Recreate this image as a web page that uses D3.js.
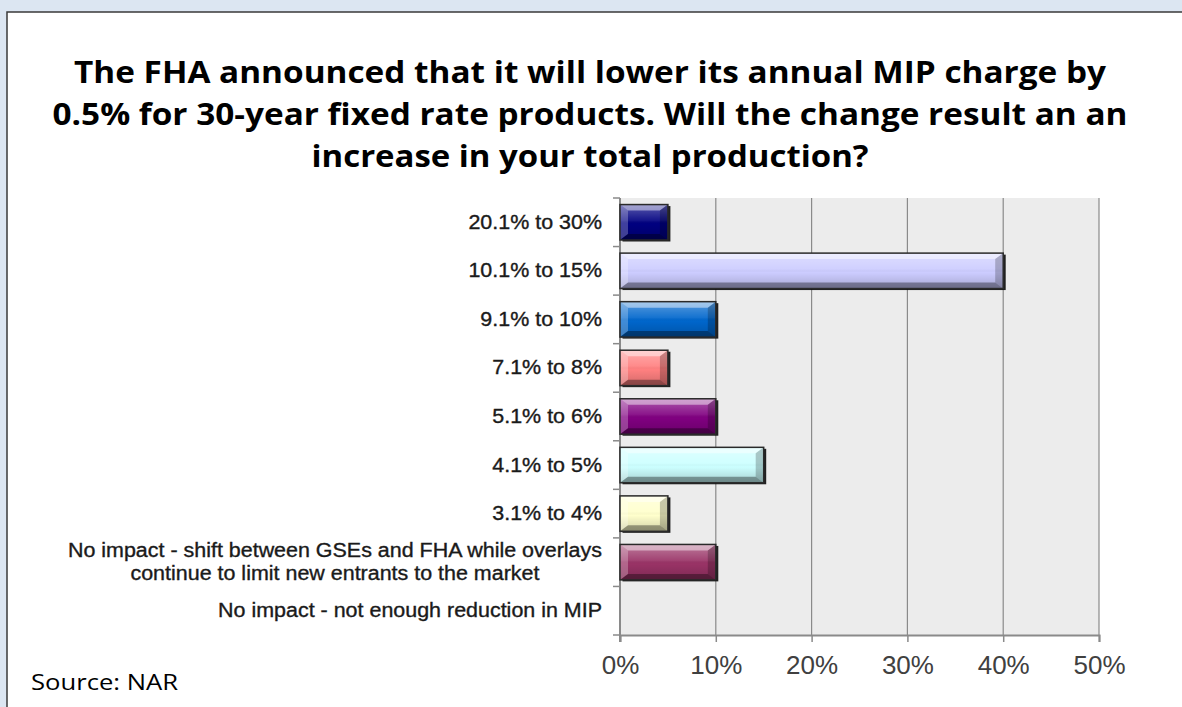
<!DOCTYPE html>
<html>
<head>
<meta charset="utf-8">
<script src="https://cdn.jsdelivr.net/npm/d3@7"></script>
<style>
  html, body { margin: 0; padding: 0; background: #dce6f2; }
  svg { display: block; }
</style>
</head>
<body>
<svg id="chart" width="1182" height="707"></svg>
<script>
// ---- data ----
const titleLines = [
  "The FHA announced that it will lower its annual MIP charge by",
  "0.5% for 30-year fixed rate products. Will the change result an an",
  "increase in your total production?"
];
const categories = [
  "20.1% to 30%",
  "10.1% to 15%",
  "9.1% to 10%",
  "7.1% to 8%",
  "5.1% to 6%",
  "4.1% to 5%",
  "3.1% to 4%",
  "No impact - shift between GSEs and FHA while overlays\ncontinue to limit new entrants to the market",
  "No impact - not enough reduction in MIP"
];
const values = [5, 40, 10, 5, 10, 15, 5, 10, 0];
const barColors = ["#000080", "#ccccff", "#0066cc", "#ff8080", "#800080", "#ccffff", "#ffffcc", "#993366", "#c0c0c0"];
const xTicks = [0, 10, 20, 30, 40, 50];
const sourceText = "Source: NAR";

// ---- layout ----
const svg = d3.select("#chart");
const plot = { left: 620, right: 1099, top: 198, bottom: 635 };

// panel
svg.append("rect")
  .attr("x", 7).attr("y", 12).attr("width", 1200).attr("height", 720)
  .attr("fill", "#ffffff").attr("stroke", "#3a3a3a").attr("stroke-width", 1.5);

// title
const titleBase = [83, 125, 167];
const titleWidths = [1032, 1075, 557];
svg.append("g").selectAll("text").data(titleLines).join("text")
  .attr("x", 590)
  .attr("y", (d, i) => titleBase[i])
  .attr("text-anchor", "middle")
  .attr("font-family", "'Open Sans', sans-serif")
  .attr("font-weight", "bold")
  .attr("font-size", 31)
  .attr("fill", "#000")
  .attr("textLength", (d, i) => titleWidths[i])
  .attr("lengthAdjust", "spacingAndGlyphs")
  .text(d => d);

// scales
const x = d3.scaleLinear().domain([0, 50]).range([plot.left, plot.right]);
const y = d3.scaleBand().domain(categories).range([plot.top, plot.bottom]).paddingInner(0.27).paddingOuter(0.135);
const yFull = d3.scaleBand().domain(categories).range([plot.top, plot.bottom]);

// plot background
svg.append("rect")
  .attr("x", x(0)).attr("y", plot.top)
  .attr("width", x(50) - x(0)).attr("height", plot.bottom - plot.top)
  .attr("fill", "#ececec");

// gridlines
svg.append("g").selectAll("line").data(xTicks.filter(t => t > 0)).join("line")
  .attr("x1", d => x(d)).attr("x2", d => x(d))
  .attr("y1", plot.top).attr("y2", plot.bottom)
  .attr("stroke", "#8a8a8a").attr("stroke-width", 1.2);

// x axis
const xAxis = d3.axisBottom(x).tickValues(xTicks).tickFormat(d => d + "%").tickSize(7).tickPadding(14);
const gx = svg.append("g").attr("transform", `translate(0,${plot.bottom})`).call(xAxis);
gx.select(".domain").attr("stroke", "#8a8a8a").attr("stroke-width", 2);
gx.selectAll(".tick line").attr("stroke", "#8a8a8a").attr("stroke-width", 1.5);
gx.selectAll(".tick text")
  .attr("font-family", "'Liberation Sans', Arial, sans-serif")
  .attr("font-size", 26).attr("fill", "#404040");

// y axis (ticks at band boundaries)
const boundaries = d3.range(categories.length + 1).map(i => plot.top + i * yFull.step());
svg.append("line")
  .attr("x1", x(0)).attr("x2", x(0)).attr("y1", plot.top).attr("y2", plot.bottom + 7)
  .attr("stroke", "#8a8a8a").attr("stroke-width", 2);
svg.append("g").selectAll("line").data(boundaries).join("line")
  .attr("x1", x(0) - 7).attr("x2", x(0))
  .attr("y1", d => d).attr("y2", d => d)
  .attr("stroke", "#8a8a8a").attr("stroke-width", 1.5);

// y labels
const labelRight = 602;
const lg = svg.append("g")
  .attr("font-family", "'Liberation Sans', Arial, sans-serif")
  .attr("font-size", 19.5)
  .attr("fill", "#1a1a1a")
  .attr("stroke", "#1a1a1a")
  .attr("stroke-width", 0.35);
categories.forEach((c, i) => {
  const lines = c.split("\n");
  const cy = yFull(c) + yFull.bandwidth() / 2;
  const lh = 23;
  const texts = lines.map((ln, j) => lg.append("text")
    .attr("y", cy + (j - (lines.length - 1) / 2) * lh + 6.5)
    .text(ln));
  const widths = texts.map(t => t.node().getComputedTextLength() * 1.10);
  const maxW = d3.max(widths);
  texts.forEach((t, j) => {
    t.attr("textLength", widths[j]).attr("lengthAdjust", "spacingAndGlyphs");
    if (lines.length > 1) {
      t.attr("text-anchor", "middle").attr("x", labelRight - maxW / 2);
    } else {
      t.attr("text-anchor", "end").attr("x", labelRight);
    }
  });
});

// bars with bevel
const defs = svg.append("defs");
const sheen = defs.append("linearGradient").attr("id", "sheen").attr("x1", 0).attr("y1", 0).attr("x2", 0).attr("y2", 1);
sheen.append("stop").attr("offset", 0).attr("stop-color", "#fff").attr("stop-opacity", 0.35);
sheen.append("stop").attr("offset", 0.45).attr("stop-color", "#fff").attr("stop-opacity", 0.08);
sheen.append("stop").attr("offset", 0.55).attr("stop-color", "#000").attr("stop-opacity", 0.0);
sheen.append("stop").attr("offset", 1).attr("stop-color", "#000").attr("stop-opacity", 0.18);

const bars = svg.append("g").selectAll("g").data(categories.map((c, i) => ({ c, v: values[i], col: barColors[i] })).filter(d => d.v > 0)).join("g");
bars.each(function (d) {
  const g = d3.select(this);
  const x0 = x(0), x1 = x(d.v), y0 = y(d.c), y1 = y(d.c) + y.bandwidth();
  const bx = Math.min(8, (x1 - x0) / 2), by = 6;
  // shadow
  g.append("rect").attr("x", x0 + 2.5).attr("y", y0 + 1.5).attr("width", x1 - x0).attr("height", y1 - y0)
    .attr("fill", "#0a0a0a").attr("opacity", 0.9);
  g.append("rect").attr("x", x0).attr("y", y0).attr("width", x1 - x0).attr("height", y1 - y0).attr("fill", d.col);
  g.append("rect").attr("x", x0).attr("y", y0).attr("width", x1 - x0).attr("height", y1 - y0).attr("fill", "url(#sheen)");
  const poly = (pts, fill, op) => g.append("polygon").attr("points", pts.map(p => p.join(",")).join(" ")).attr("fill", fill).attr("opacity", op);
  poly([[x0, y0], [x1, y0], [x1 - bx, y0 + by], [x0 + bx, y0 + by]], "#fff", 0.45);
  poly([[x0, y0], [x0 + bx, y0 + by], [x0 + bx, y1 - by], [x0, y1]], "#fff", 0.25);
  poly([[x0, y1], [x0 + bx, y1 - by], [x1 - bx, y1 - by], [x1, y1]], "#000", 0.35);
  poly([[x1, y0], [x1, y1], [x1 - bx, y1 - by], [x1 - bx, y0 + by]], "#000", 0.22);
  g.append("rect").attr("x", x0).attr("y", y0).attr("width", x1 - x0).attr("height", y1 - y0)
    .attr("fill", "none").attr("stroke", "#2a2a2a").attr("stroke-width", 1.5);
});

// source
svg.append("text")
  .attr("x", 31).attr("y", 690)
  .attr("font-family", "'Open Sans', sans-serif")
  .attr("font-size", 21)
  .attr("fill", "#000")
  .attr("textLength", 147).attr("lengthAdjust", "spacingAndGlyphs")
  .text(sourceText);
</script>
</body>
</html>
